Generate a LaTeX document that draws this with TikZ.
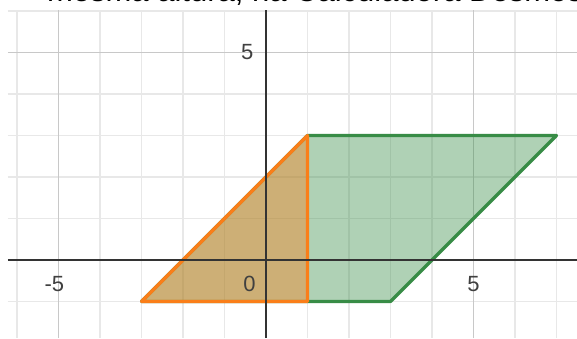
\documentclass[tikz,border=0pt]{standalone}
\usepackage{fontspec}
\setmainfont{Liberation Sans}
\definecolor{dgreen}{HTML}{388C46}
\definecolor{dorange}{HTML}{FA7E19}
\definecolor{minorgrid}{HTML}{E8E8E8}
\definecolor{majorgrid}{HTML}{C8C8C8}
\definecolor{axiscol}{HTML}{333333}
\tikzset{
  minorline/.style={draw=minorgrid, line width=1.2pt},
  majorline/.style={draw=majorgrid, line width=1.4pt},
  axisline/.style={draw=axiscol, line width=2pt},
  ticklabel/.style={font=\fontsize{22}{22}\selectfont, text=black!75, inner sep=1pt},
  greenshape/.style={draw=dgreen, fill=dgreen, fill opacity=0.4, line width=3.2pt, line join=round},
  orangeshape/.style={draw=dorange, fill=dorange, fill opacity=0.4, line width=3.2pt, line join=round},
}
\begin{document}
\begin{tikzpicture}[x=41.5pt, y=41.5pt]
\useasboundingbox (-6.41,-1.88) rectangle (7.494,6.265);
\clip (-6.41,-1.88) rectangle (7.494,6.265);
\fill[white] (-6.41,-1.88) rectangle (7.494,6.265);
% grid
\foreach \i in {-6,-4,-3,-2,-1,1,2,3,4,6,7} \draw[minorline] (\i,-1.88) -- (\i,6.02);
\foreach \j in {-1,1,2,3,4,6} \draw[minorline] (-6.22,\j) -- (7.494,\j);
\draw[majorline] (-5,-1.88) -- (-5,6.02);
\draw[majorline] (5,-1.88) -- (5,6.02);
\draw[majorline] (-6.22,5) -- (7.494,5);
% shapes
\coordinate (A) at (-3,-1);
\coordinate (B) at (1,3);
\coordinate (C) at (7,3);
\coordinate (D) at (3,-1);
\coordinate (E) at (1,-1);
\draw[greenshape] (A) -- (B) -- (C) -- (D) -- cycle;
\draw[orangeshape] (A) -- (B) -- (E) -- cycle;
% axes
\draw[axisline] (-6.22,0) -- (7.494,0);
\draw[axisline] (0,-1.88) -- (0,6.02);
% labels
\node[ticklabel] (lm5) at (-5.1,-0.58) {-5};
\node[ticklabel] (l0) at (-0.4,-0.58) {0};
\node[ticklabel] (l5x) at (5,-0.58) {5};
\node[ticklabel] (l5y) at (-0.45,5.0) {5};
% top cut text
\node[anchor=base west, font=\fontsize{31}{31}\selectfont, inner sep=0pt] (title) at (-5.28,6.235) {mesma altura, na Calculadora Desmos};
\end{tikzpicture}
\end{document}
